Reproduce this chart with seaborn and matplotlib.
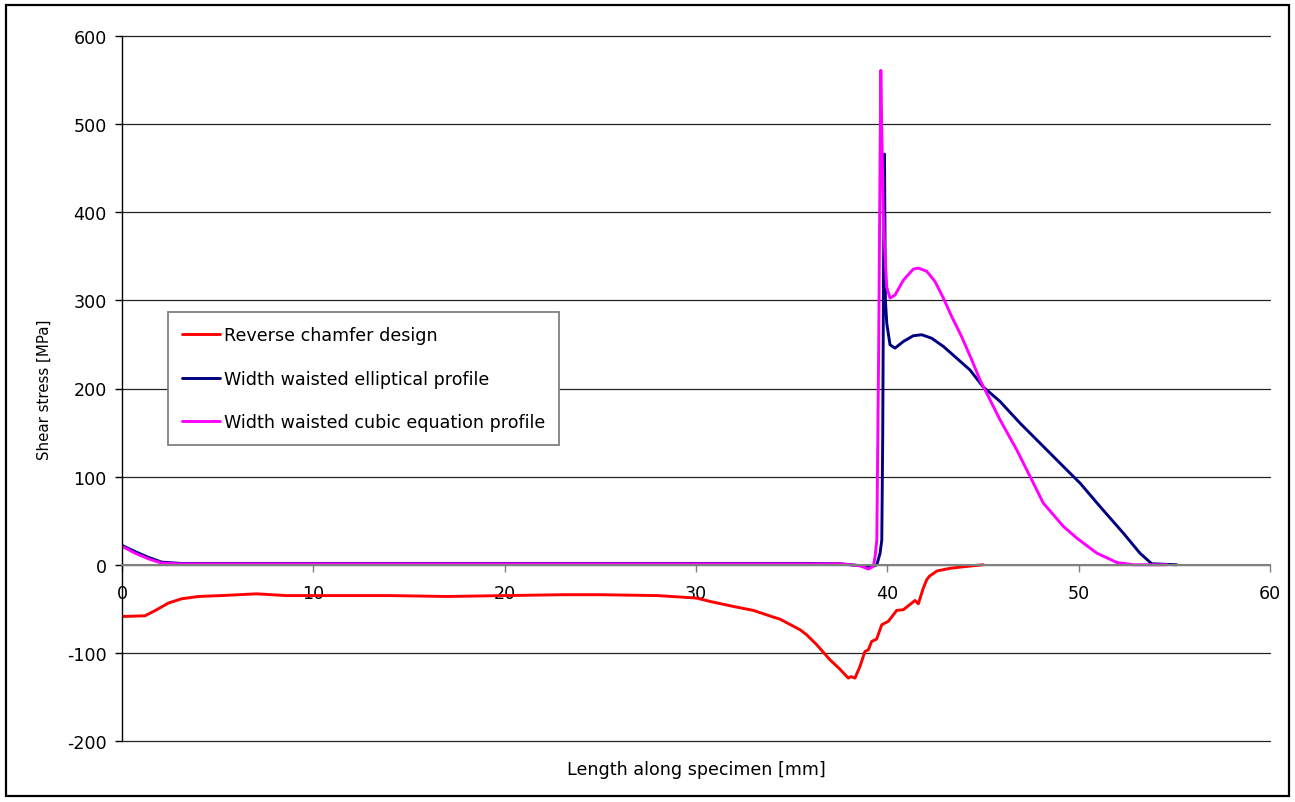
import matplotlib
matplotlib.use("Agg")
import matplotlib.pyplot as plt
import seaborn as sns
import pandas as pd
from matplotlib.patches import Rectangle

# Shear stress along the specimen for three joint geometries
x_rev = [0, 0.24, 1.2, 1.72, 2.42, 3.12, 3.99, 5.38, 7.04, 8.6, 11.7, 14, 17, 20,
         23, 25, 28, 30.03, 30.73, 31.95, 33.0, 34.04, 34.39, 35.44, 35.78, 36.31,
         37.0, 37.5, 37.96, 38.1, 38.31, 38.57, 38.83, 39.01, 39.18, 39.44, 39.71,
         40.05, 40.49, 40.84, 41.45, 41.62, 41.88, 42.06, 42.2, 42.6, 43.3, 44.1,
         45.0]
y_rev = [-58.6, -58.6, -57.9, -52.2, -43.5, -38.6, -36, -34.8, -33, -35, -35, -35,
         -36, -35, -34, -34, -35, -37.8, -41.6, -47.3, -51.8, -59.4, -61.7, -73.8,
         -79.4, -90.8, -107.8, -118, -128.6, -127, -128.6, -115.4, -98.4, -96.5,
         -87, -84.4, -68, -64.3, -51.8, -51, -40.5, -44.3, -26.5, -17, -13, -7,
         -4, -2, 0]

x_ell = [0, 0.68, 1.37, 2.07, 3.1, 5, 10, 20, 30, 36, 37.53, 38.57, 39.1, 39.45,
         39.62, 39.71, 39.76, 39.8, 39.85, 39.9, 39.97, 40.14, 40.4, 40.84, 41.36,
         41.8, 42.32, 42.93, 43.62, 44.32, 45.0, 45.89, 46.93, 48.15, 49.72, 50.07,
         51.11, 52.33, 53.2, 53.82, 55.12]
y_ell = [22, 15, 8.5, 3, 1.5, 1.5, 1.5, 1.5, 1.5, 1.5, 1.1, -1, -2.5, 0,
         13, 28, 150, 330, 466, 300, 274, 249.6, 245.8, 253.4, 259.9,
         261, 257, 247.7, 234.5, 221, 202, 185.3, 160.8, 134.3, 100.2, 92.7,
         66.2, 36, 13.2, 1.1, 0]

x_cub = [0, 0.68, 1.37, 2.07, 3.1, 5, 10, 20, 30, 36, 37.53, 38.57, 39.01, 39.27,
         39.36, 39.45, 39.55, 39.62, 39.66, 39.72, 39.79, 39.88, 39.97, 40.14, 40.4,
         40.84, 41.36, 41.62, 42.06, 42.49, 42.93, 43.36, 43.88, 44.41, 44.84,
         45.37, 45.89, 46.76, 47.46, 48.15, 49.2, 49.9, 50.94, 51.99, 52.86, 54.6]
y_cub = [21, 13.2, 6.8, 1.9, 1, 1, 1, 1, 1, 1, 1.1, -1.1, -4.9, -1.9,
         9.4, 28, 250, 460, 561, 480, 400, 350, 315, 302.6, 306,
         323, 335.5, 336.7, 333, 321.5, 302.6, 281.8, 259, 232.6, 210,
         187, 164.5, 130.5, 100.2, 70, 43.5, 30.3, 13.3, 2.6, 0, 0]

series_names = ["Reverse chamfer design",
                "Width waisted elliptical profile",
                "Width waisted cubic equation profile"]
series_colors = ["#FF0000", "#000080", "#FF00FF"]

x_ticks = [0, 10, 20, 30, 40, 50, 60]
y_ticks = [-200, -100, 0, 100, 200, 300, 400, 500, 600]

df = pd.concat([
    pd.DataFrame({"x": x_rev, "y": y_rev, "design": series_names[0]}),
    pd.DataFrame({"x": x_ell, "y": y_ell, "design": series_names[1]}),
    pd.DataFrame({"x": x_cub, "y": y_cub, "design": series_names[2]}),
], ignore_index=True)

sns.set_style("white")
plt.rcParams["font.family"] = ["DejaVu Sans"]
plt.rcParams["axes.unicode_minus"] = False
plt.rcParams["text.color"] = "black"
plt.rcParams["axes.labelcolor"] = "black"
plt.rcParams["xtick.labelcolor"] = "black"
plt.rcParams["ytick.labelcolor"] = "black"

FS = 12.6

fig = plt.figure(figsize=(12.95, 8.03), dpi=100)
ax = fig.add_axes([122 / 1295, 1 - 742 / 803, 1148 / 1295, 705 / 803])

sns.lineplot(data=df, x="x", y="y", hue="design", hue_order=series_names,
             palette=series_colors, estimator=None, sort=False,
             linewidth=2.1, legend=False, ax=ax)
for line in ax.get_lines():
    line.set_solid_joinstyle("round")
    line.set_solid_capstyle("round")

ax.set_xlim(0, 60)
ax.set_ylim(-200, 600)
ax.set_xticks(x_ticks)
ax.set_yticks(y_ticks)

ax.yaxis.grid(True, color="#222222", linewidth=0.9)
ax.xaxis.grid(False)
ax.set_axisbelow(True)
for gl in ax.get_ygridlines():
    gl.set_clip_on(False)

for side in ("top", "right"):
    ax.spines[side].set_visible(False)
ax.spines["left"].set_color("black")
ax.spines["left"].set_linewidth(1.0)
ax.spines["bottom"].set_position(("data", 0))
ax.spines["bottom"].set_color("#808080")
ax.spines["bottom"].set_linewidth(1.5)

ax.tick_params(axis="y", direction="out", length=5, width=1, color="black",
               labelsize=FS, labelcolor="black", pad=6, left=True)
ax.tick_params(axis="x", direction="out", length=5, width=1, color="#808080",
               labelsize=FS, labelcolor="black", pad=9, bottom=True)

ax.set_xlabel("Length along specimen [mm]", fontsize=FS, color="black")
ax.set_ylabel("Shear stress [MPa]", fontsize=10.8, color="black")
ax.xaxis.set_label_coords(0.5, -0.027)
ax.yaxis.set_label_coords(-0.061, 0.5)

handles = ax.get_lines()[:3]
leg = ax.legend(handles, series_names, loc="upper left",
                bbox_to_anchor=(0.040, 0.6085), borderaxespad=0,
                fontsize=FS, frameon=True, fancybox=False, framealpha=1,
                edgecolor="#808080", handlelength=2.15, handletextpad=0.25,
                labelspacing=1.47, borderpad=0.8)
leg.get_frame().set_linewidth(1.3)
for line in leg.get_lines():
    line.set_linewidth(2.1)
for txt in leg.get_texts():
    txt.set_color("black")

fig.patches.append(Rectangle((6 / 1295, 6 / 803), 1283 / 1295, 791 / 803,
                             transform=fig.transFigure, fill=False,
                             edgecolor="black", linewidth=1.6))

fig.savefig("out.png", dpi=100)
